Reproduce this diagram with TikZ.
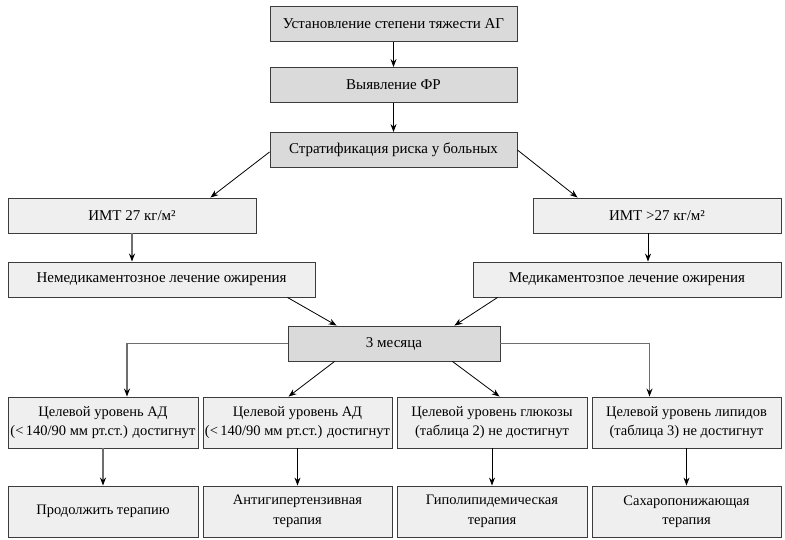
\documentclass[tikz,border=0pt]{standalone}
\usepackage{fontspec}
\setmainfont{Liberation Serif}
\usepackage{xcolor}
\definecolor{boxdark}{HTML}{DADADA}
\definecolor{boxlight}{HTML}{EFEFEF}
\definecolor{boxline}{HTML}{3C3C3C}
\definecolor{lnkgray}{HTML}{6E6E6E}
\usetikzlibrary{arrows.meta,positioning}

\begin{document}
\begin{tikzpicture}[x=1pt, y=-1pt,
  obj/.style={draw=boxline, line width=0.9pt, fill=boxlight, align=center,
    font=\fontsize{15}{19.5}\selectfont, inner sep=0pt, minimum height=35pt},
  hd/.style={obj, fill=boxdark},
  goal/.style={obj, minimum height=51pt, font=\fontsize{14.5}{19.5}\selectfont},
  arr/.style={-{Stealth[length=2.8mm, width=2.1mm]}, line width=0.8pt, black},
  garr/.style={arr, lnkgray, line width=1.2pt,
    -{Stealth[length=2.8mm, width=2.1mm, color=black]}}]
\useasboundingbox (0,0) rectangle (785,540);
\node[hd, minimum width=247pt] (sev) at (393.5,24) {Установление степени тяжести АГ};
\node[hd, minimum width=247pt] (fr) at (393.5,85) {Выявление ФР};
\node[hd, minimum width=247pt] (strat) at (393.5,150) {Стратификация риска у больных};
\node[obj, minimum width=248pt] (bmilo) at (132,215.5) {ИМТ 27 кг/м²};
\node[obj, minimum width=248pt] (bmihi) at (657,215.5) {ИМТ >27 кг/м²};
\node[obj, minimum width=307pt] (nonmed) at (161.5,279.5) {Немедикаментозное лечение ожирения};
\node[obj, minimum width=308pt] (med) at (627,279.5) {Медикаментозпое лечение ожирения};
\node[hd, minimum width=212pt] (months) at (394,343.5) {3 месяца};
\node[goal, minimum width=190pt] (goalbp) at (103,422.5) {Целевой уровень АД\\(<\,140/90 мм рт.ст.) достигнут};
\node[goal, minimum width=189pt] (goalbpb) at (297.5,422.5) {Целевой уровень АД\\(<\,140/90 мм рт.ст.) достигнут};
\node[goal, minimum width=190pt] (goalglu) at (492,422.5) {Целевой уровень глюкозы\\(таблица 2) не достигнут};
\node[goal, minimum width=189pt] (goallip) at (686.5,422.5) {Целевой уровень липидов\\(таблица 3) не достигнут};
\node[goal, minimum width=190pt] (cont) at (103,511.5) {Продолжить терапию};
\node[goal, minimum width=189pt] (antihyp) at (297.5,511.5) {Антигипертензивная\\терапия};
\node[goal, minimum width=190pt] (hypolip) at (492,511.5) {Гиполипидемическая\\терапия};
\node[goal, minimum width=189pt] (sugar) at (686.5,511.5) {Сахаропонижающая\\терапия};
\coordinate (hisrc) at ([xshift=-9pt]bmihi.south);
\draw[arr] (sev) -- (fr);
\draw[arr] (fr) -- (strat);
\draw[arr] ([yshift=-2pt]strat.west) -- ([xshift=-46pt]bmilo.north east);
\draw[arr] (strat.east) -- ([xshift=45pt]bmihi.north west);
\draw[garr] (bmilo) -- (nonmed.north -| bmilo.south);
\draw[arr] (hisrc) -- (hisrc |- med.north);
\draw[arr] ([xshift=-28pt]nonmed.south east) -- ([xshift=49pt]months.north west);
\draw[arr] ([xshift=25pt]med.south west) -- ([xshift=-46pt]months.north east);
\draw[garr] (months.west) -| ([xshift=24pt]goalbp.north);
\draw[garr] (months.east) -| ([xshift=-37pt]goallip.north);
\draw[arr] ([xshift=47pt]months.south west) -- ([xshift=86pt]goalbpb.north west);
\draw[arr] ([xshift=-48pt]months.south east) -- ([xshift=103pt]goalglu.north west);
\draw[garr] (goalbp) -- (cont);
\draw[arr] (goalbpb) -- (antihyp);
\draw[arr] (goalglu) -- (hypolip);
\draw[arr] (goallip) -- (sugar);
\end{tikzpicture}
\end{document}
